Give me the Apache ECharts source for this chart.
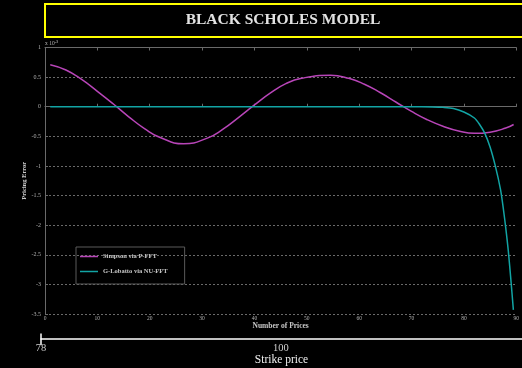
<!DOCTYPE html>
<html>
<head>
<meta charset="utf-8">
<script src="https://cdn.jsdelivr.net/npm/echarts@6/dist/echarts.min.js"></script>
<style>
  html, body { margin: 0; padding: 0; background: #000; }
  #chart { width: 522px; height: 368px; }
</style>
</head>
<body>
<div id="chart"></div>
<script>
// Pricing error (x 10^-3) against number of prices for the two quadrature schemes
const simpsonX = [1, 4, 7, 10, 13, 16, 19, 22, 26.5, 31, 34, 37, 40, 43, 46, 49, 54.5, 58, 61, 64, 67, 70, 73, 76, 79, 82, 85, 88, 89.5];
const simpsonY = [0.71, 0.62, 0.46, 0.26, 0.05, -0.17, -0.37, -0.52, -0.625, -0.53, -0.38, -0.18, 0.03, 0.23, 0.39, 0.48, 0.53, 0.48, 0.38, 0.24, 0.08, -0.08, -0.22, -0.33, -0.41, -0.45, -0.43, -0.36, -0.30];

const lobattoX = [1, 10, 20, 30, 40, 50, 60, 70, 74, 76, 78, 80, 82, 83, 84, 85, 86, 87, 87.5, 88, 88.5, 89, 89.45];
const lobattoY = [0, 0, 0, 0, 0, 0, 0, 0, -0.003, -0.01, -0.03, -0.09, -0.19, -0.30, -0.45, -0.68, -1.0, -1.4, -1.7, -2.05, -2.45, -2.95, -3.43];

const seriesNames = ['Simpson via P-FFT', 'G-Lobatto via NU-FFT'];
const seriesColors = ['#b845b8', '#12a4a4'];

// Lower strike-price scale
const strikeMin = 78;
const strikeMax = 122.1;
const strikeLabels = [78, 100];

const zip = (xs, ys) => xs.map((x, i) => [x, ys[i]]);

const serif = 'Liberation Serif';
const chart = echarts.init(document.getElementById('chart'));

chart.setOption({
  backgroundColor: '#000',
  animation: false,
  grid: [
    { left: 45, right: 2, top: 47.5, bottom: 54 },
    { left: 41, right: 0, top: 338, bottom: 29 }
  ],
  legend: {
    left: 76, top: 247, orient: 'vertical',
    data: seriesNames,
    icon: 'rect',
    borderColor: '#5a5a5a', borderWidth: 1,
    padding: [6, 17, 9, 4],
    itemWidth: 18, itemHeight: 1.5, itemGap: 8,
    textStyle: { color: '#c8c8c8', fontSize: 6.5, fontFamily: serif, fontWeight: 'bold' }
  },
  xAxis: [
    {
      type: 'value', gridIndex: 0, min: 0, max: 90, interval: 10,
      name: 'Number of Prices', nameLocation: 'middle', nameGap: 8, nameMoveOverlap: false,
      nameTextStyle: { color: '#c8c8c8', fontSize: 7.5, fontFamily: serif, fontWeight: 'bold' },
      axisLine: { lineStyle: { color: '#6a6a6a', width: 1 } },
      axisTick: { inside: true, length: 3, lineStyle: { color: '#6a6a6a' } },
      axisLabel: { color: '#b0b0b0', fontSize: 5.5, fontFamily: serif, margin: 2 },
      splitLine: { show: false }
    },
    {
      type: 'value', gridIndex: 0, position: 'top', min: 0, max: 90, interval: 10,
      axisLine: { lineStyle: { color: '#6a6a6a', width: 1 } },
      axisTick: { inside: true, length: 3, lineStyle: { color: '#6a6a6a' } },
      axisLabel: { show: false },
      splitLine: { show: false }
    },
    {
      type: 'value', gridIndex: 1, position: 'bottom', min: strikeMin, max: strikeMax,
      name: 'Strike price', nameLocation: 'middle', nameGap: 15, nameMoveOverlap: false,
      nameTextStyle: { color: '#f0f0f0', fontSize: 11.5, fontFamily: serif },
      axisLine: { lineStyle: { color: '#ffffff', width: 1.5 } },
      axisTick: { show: false },
      axisLabel: {
        customValues: strikeLabels,
        fontSize: 10.5, fontFamily: serif, margin: 4,
        color: (v) => (v === strikeMin ? '#9a9a9a' : '#d0d0d0')
      },
      splitLine: { show: false }
    }
  ],
  yAxis: [
    {
      type: 'value', gridIndex: 0, min: -3.5, max: 1, interval: 0.5,
      name: 'Pricing Error', nameLocation: 'middle', nameGap: 17, nameRotate: 90, nameMoveOverlap: false,
      nameTextStyle: { color: '#c8c8c8', fontSize: 6.5, fontFamily: serif, fontWeight: 'bold' },
      axisLine: { show: true, lineStyle: { color: '#6a6a6a', width: 1 } },
      axisTick: { show: true, inside: true, length: 3, lineStyle: { color: '#6a6a6a' } },
      axisLabel: { color: '#b0b0b0', fontSize: 6, fontFamily: serif, margin: 4 },
      splitLine: { show: true, lineStyle: { color: '#6a6a6a', type: [2, 2], width: 1 } }
    },
    { type: 'value', gridIndex: 1, show: false, min: 0, max: 1 }
  ],
  graphic: [
    {
      type: 'rect', silent: true,
      shape: { x: 45, y: 4, width: 500, height: 33 },
      style: { fill: 'transparent', stroke: '#ffff00', lineWidth: 2 }
    },
    {
      type: 'text', silent: true, x: 283, y: 20,
      style: {
        text: 'BLACK SCHOLES MODEL', fill: '#e2e2e2',
        font: 'bold 15.5px "Liberation Serif"', textAlign: 'center', textVerticalAlign: 'middle'
      }
    },
    {
      type: 'text', silent: true, x: 45, y: 44,
      style: {
        text: 'x 10{s|-3}',
        rich: { s: { fontSize: 4, fill: '#b0b0b0', verticalAlign: 'top', padding: [0, 0, 5, 0] } },
        fill: '#b0b0b0', font: '5.5px "Liberation Serif"', textVerticalAlign: 'middle'
      }
    },
    {
      type: 'line', silent: true,
      shape: { x1: 41, y1: 333.5, x2: 41, y2: 345 },
      style: { stroke: '#ffffff', lineWidth: 1.5 }
    }
  ],
  series: [
    {
      name: seriesNames[0], type: 'line', xAxisIndex: 0, yAxisIndex: 0,
      data: zip(simpsonX, simpsonY), symbol: 'none', smooth: true,
      lineStyle: { color: seriesColors[0], width: 1.5 }, itemStyle: { color: seriesColors[0] }
    },
    {
      name: seriesNames[1], type: 'line', xAxisIndex: 0, yAxisIndex: 0,
      data: zip(lobattoX, lobattoY), symbol: 'none', smooth: 0.3,
      lineStyle: { color: seriesColors[1], width: 1.5 }, itemStyle: { color: seriesColors[1] }
    }
  ]
});
</script>
</body>
</html>
